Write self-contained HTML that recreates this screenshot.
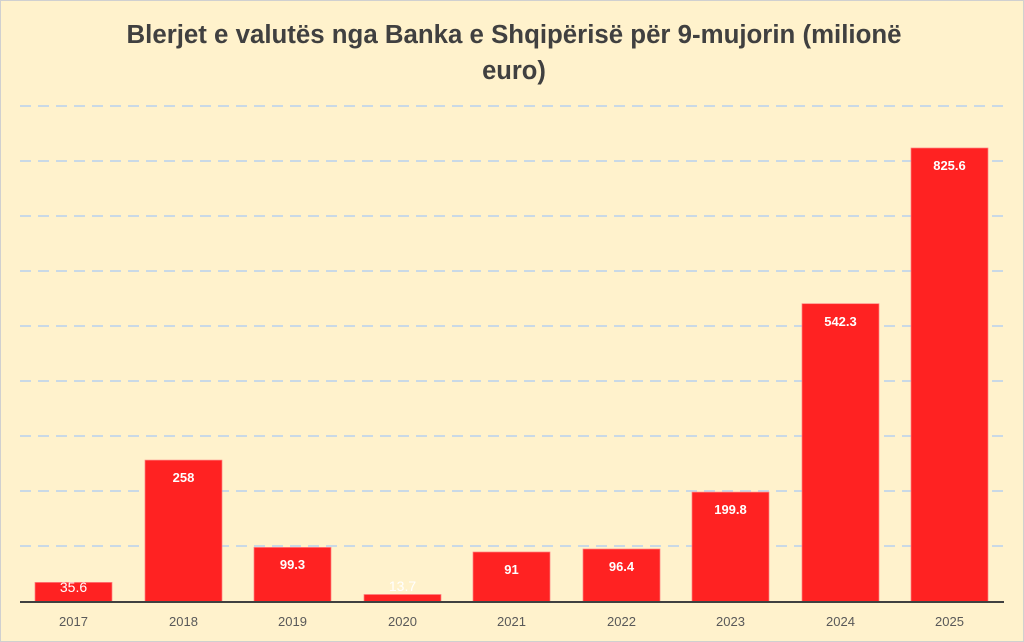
<!DOCTYPE html>
<html><head><style>
html,body{margin:0;padding:0;background:#fff;}
svg{display:block;font-family:"Liberation Sans",sans-serif;}
</style></head><body>
<svg width="1024" height="642" viewBox="0 0 1024 642" xmlns="http://www.w3.org/2000/svg">
<rect x="0.5" y="0.5" width="1023" height="641" fill="#FFF2CC" stroke="#D0D0D0"/>
<text x="514" y="43" text-anchor="middle" font-size="25.5" font-weight="bold" fill="#404040" textLength="775" lengthAdjust="spacingAndGlyphs">Blerjet e valutës nga Banka e Shqipërisë për 9-mujorin (milionë</text>
<text x="514" y="79" text-anchor="middle" font-size="25.5" font-weight="bold" fill="#404040">euro)</text>
<g stroke="#C9D9E6" stroke-width="2" stroke-dasharray="11,7">
<line x1="20" x2="1004" y1="106" y2="106"/><line x1="20" x2="1004" y1="161" y2="161"/>
<line x1="20" x2="1004" y1="216" y2="216"/><line x1="20" x2="1004" y1="271" y2="271"/>
<line x1="20" x2="1004" y1="326" y2="326"/><line x1="20" x2="1004" y1="381" y2="381"/>
<line x1="20" x2="1004" y1="436" y2="436"/><line x1="20" x2="1004" y1="491" y2="491"/>
<line x1="20" x2="1004" y1="546" y2="546"/>
</g>
<g fill="#FF2222" stroke="#FF8080" stroke-width="0.7">
<rect x="35" y="582.4" width="77" height="19.6"/>
<rect x="145" y="460.1" width="77" height="141.9"/>
<rect x="254" y="547.4" width="77" height="54.6"/>
<rect x="364" y="594.5" width="77" height="7.5"/>
<rect x="473" y="552" width="77" height="50"/>
<rect x="583" y="549" width="77" height="53"/>
<rect x="692" y="492.1" width="77" height="109.9"/>
<rect x="802" y="303.7" width="77" height="298.3"/>
<rect x="911" y="148" width="77" height="454"/>
</g>
<line x1="20" x2="1004" y1="602" y2="602" stroke="#404040" stroke-width="2"/>
<g fill="#fff" font-size="13" font-weight="bold" text-anchor="middle">
<text x="73.5" y="592" font-weight="normal" font-size="14">35.6</text>
<text x="183.5" y="482">258</text>
<text x="292.5" y="569">99.3</text>
<text x="402.5" y="591" font-weight="normal" font-size="14">13.7</text>
<text x="511.5" y="574">91</text>
<text x="621.5" y="571">96.4</text>
<text x="730.5" y="514">199.8</text>
<text x="840.5" y="326">542.3</text>
<text x="949.5" y="170">825.6</text>
</g>
<g fill="#595959" font-size="13" text-anchor="middle">
<text x="73.5" y="626">2017</text><text x="183.5" y="626">2018</text>
<text x="292.5" y="626">2019</text><text x="402.5" y="626">2020</text>
<text x="511.5" y="626">2021</text><text x="621.5" y="626">2022</text>
<text x="730.5" y="626">2023</text><text x="840.5" y="626">2024</text>
<text x="949.5" y="626">2025</text>
</g>
</svg>
</body></html>
